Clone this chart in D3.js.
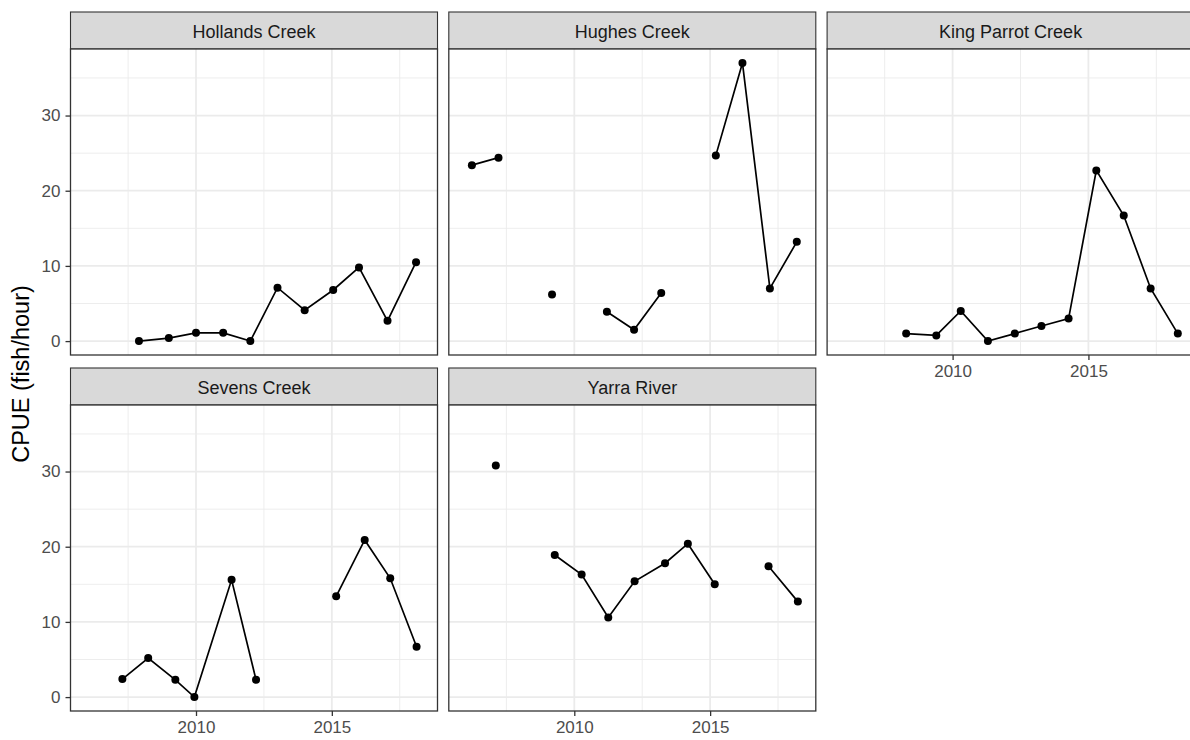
<!DOCTYPE html>
<html>
  <head>
    <title>CPUE by site</title>
    <style>
      body,
      html {
        margin: 0;
        padding: 0;
        background: #fff;
      }
      svg text {
        font-family: 'Liberation Sans', Arial, sans-serif;
      }
    </style>
  </head>
  <body>
    <svg id="svg" width="1190" height="740"></svg>

    <script src="https://cdn.jsdelivr.net/npm/d3@7"></script>
    <script>
      // site names, in facet order
      const sites = ['Hollands Creek', 'Hughes Creek', 'King Parrot Creek', 'Sevens Creek', 'Yarra River'];

      // sampling dates as decimal years; null value = missing survey (breaks the line)
      const hollandsYears = [2007.9, 2009.0, 2010.0, 2011.0, 2012.0, 2013.0, 2014.0, 2015.05, 2016.0, 2017.05, 2018.1];
      const hollandsCpue = [0, 0.4, 1.1, 1.1, 0, 7.1, 4.1, 6.8, 9.8, 2.7, 10.5];

      const hughesYears = [2006.23, 2007.21, 2008.2, 2009.18, 2010.2, 2011.2, 2012.2, 2013.2, 2014.2, 2015.21, 2016.19, 2017.2, 2018.19];
      const hughesCpue = [23.4, 24.4, null, 6.2, null, 3.9, 1.5, 6.4, null, 24.7, 37.0, 7.0, 13.2];

      const kingParrotYears = [2008.29, 2009.4, 2010.3, 2011.3, 2012.29, 2013.27, 2014.27, 2015.29, 2016.3, 2017.29, 2018.29];
      const kingParrotCpue = [1.0, 0.75, 4.0, 0, 1.0, 2.0, 3.0, 22.7, 16.7, 7.0, 1.0];

      const sevensYears = [2007.29, 2008.24, 2009.24, 2009.94, 2011.31, 2012.21, 2013.2, 2014.2, 2015.16, 2016.21, 2017.15, 2018.12];
      const sevensCpue = [2.4, 5.2, 2.3, 0, 15.6, 2.3, null, null, 13.4, 20.9, 15.8, 6.7];

      const yarraYears = [2007.11, 2008.2, 2009.28, 2010.27, 2011.25, 2012.22, 2013.34, 2014.18, 2015.17, 2016.2, 2017.15, 2018.23];
      const yarraCpue = [30.8, null, 18.9, 16.3, 10.6, 15.4, 17.8, 20.4, 15.0, null, 17.4, 12.7];

      const xTicks = [2010, 2015];
      const xMinorTicks = [2007.5, 2012.5, 2017.5];
      const yTicks = [0, 10, 20, 30];
      const yMinorTicks = [5, 15, 25, 35];

      const series = [
        { site: sites[0], years: hollandsYears, cpue: hollandsCpue },
        { site: sites[1], years: hughesYears, cpue: hughesCpue },
        { site: sites[2], years: kingParrotYears, cpue: kingParrotCpue },
        { site: sites[3], years: sevensYears, cpue: sevensCpue },
        { site: sites[4], years: yarraYears, cpue: yarraCpue },
      ];

      // layout
      const left = 70.5;
      const panelW = 367;
      const gapX = 11.3;
      const stripH = 37;
      const panelH = 306;
      const rowTops = [12, 368];
      const ncol = 3;

      const xScale = d3.scaleLinear().domain([2005.38, 2018.89]).range([0, panelW]);
      const yScale = d3.scaleLinear().domain([-1.85, 38.85]).range([panelH, 0]);

      const svg = d3.select('#svg');

      const line = d3
        .line()
        .defined((d) => d.v != null)
        .x((d) => xScale(d.x))
        .y((d) => yScale(d.v));

      series.forEach((s, i) => {
        const col = i % ncol;
        const row = Math.floor(i / ncol);
        const px = left + col * (panelW + gapX);
        const py = rowTops[row];
        const g = svg.append('g').attr('transform', `translate(${px}, ${py})`);

        // strip
        g.append('rect')
          .attr('x', 0)
          .attr('y', 0)
          .attr('width', panelW)
          .attr('height', stripH)
          .attr('fill', '#d9d9d9')
          .attr('stroke', '#333333')
          .attr('stroke-width', 1.1);
        g.append('text')
          .attr('x', panelW / 2)
          .attr('y', 25.5)
          .attr('text-anchor', 'middle')
          .attr('font-size', 18)
          .attr('fill', '#1a1a1a')
          .text(s.site);

        const p = g.append('g').attr('transform', `translate(0, ${stripH})`);
        p.append('rect').attr('width', panelW).attr('height', panelH).attr('fill', '#fff');

        // grid
        p.selectAll('.ymin')
          .data(yMinorTicks)
          .enter()
          .append('line')
          .attr('x1', 0)
          .attr('x2', panelW)
          .attr('y1', (d) => yScale(d))
          .attr('y2', (d) => yScale(d))
          .attr('stroke', '#ebebeb')
          .attr('stroke-width', 0.9);
        p.selectAll('.xmin')
          .data(xMinorTicks)
          .enter()
          .append('line')
          .attr('y1', 0)
          .attr('y2', panelH)
          .attr('x1', (d) => xScale(d))
          .attr('x2', (d) => xScale(d))
          .attr('stroke', '#ebebeb')
          .attr('stroke-width', 0.9);
        p.selectAll('.ymaj')
          .data(yTicks)
          .enter()
          .append('line')
          .attr('x1', 0)
          .attr('x2', panelW)
          .attr('y1', (d) => yScale(d))
          .attr('y2', (d) => yScale(d))
          .attr('stroke', '#ebebeb')
          .attr('stroke-width', 1.8);
        p.selectAll('.xmaj')
          .data(xTicks)
          .enter()
          .append('line')
          .attr('y1', 0)
          .attr('y2', panelH)
          .attr('x1', (d) => xScale(d))
          .attr('x2', (d) => xScale(d))
          .attr('stroke', '#ebebeb')
          .attr('stroke-width', 1.8);

        const pts = s.years.map((x, k) => ({ x: x, v: s.cpue[k] }));

        p.append('path')
          .datum(pts)
          .attr('d', line)
          .attr('fill', 'none')
          .attr('stroke', '#000')
          .attr('stroke-width', 1.7);

        p.selectAll('circle')
          .data(pts.filter((d) => d.v != null))
          .enter()
          .append('circle')
          .attr('cx', (d) => xScale(d.x))
          .attr('cy', (d) => yScale(d.v))
          .attr('r', 4)
          .attr('fill', '#000');

        p.append('rect')
          .attr('width', panelW)
          .attr('height', panelH)
          .attr('fill', 'none')
          .attr('stroke', '#333333')
          .attr('stroke-width', 1.3);

        // y axis on first column
        if (col === 0) {
          const ax = p.append('g').call(d3.axisLeft(yScale).tickValues(yTicks).tickSize(5).tickPadding(5));
          ax.select('.domain').remove();
          ax.selectAll('line').attr('stroke', '#333333').attr('stroke-width', 1.3);
          ax.selectAll('text').attr('font-size', 17).attr('fill', '#4d4d4d').attr('font-family', 'Liberation Sans, Arial, sans-serif');
        }
        // x axis on bottom-most panel of each column
        if (row === 1 || i + ncol >= series.length) {
          const ax = p
            .append('g')
            .attr('transform', `translate(0, ${panelH})`)
            .call(d3.axisBottom(xScale).tickValues(xTicks).tickFormat(d3.format('d')).tickSize(5).tickPadding(5));
          ax.select('.domain').remove();
          ax.selectAll('line').attr('stroke', '#333333').attr('stroke-width', 1.3);
          ax.selectAll('text').attr('font-size', 17).attr('fill', '#4d4d4d').attr('font-family', 'Liberation Sans, Arial, sans-serif');
        }
      });

      svg
        .append('text')
        .attr('transform', 'translate(29, 374) rotate(-90)')
        .attr('text-anchor', 'middle')
        .attr('font-size', 23.5)
        .attr('fill', '#000')
        .text('CPUE (fish/hour)');
    </script>
  </body>
</html>
